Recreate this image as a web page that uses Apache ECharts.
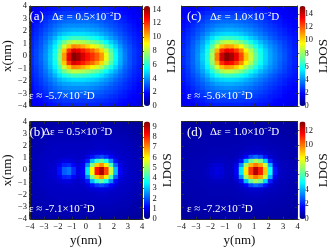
<!DOCTYPE html>
<html><head><meta charset="utf-8">
<script src="https://cdn.jsdelivr.net/npm/echarts@6/dist/echarts.min.js"></script>
<style>html,body{margin:0;padding:0;background:#fff}#c{width:331px;height:248px}</style>
</head><body><div id="c"></div>
<script>
// cell centres (nm) of the LDOS maps, same for both directions
const cellCenters = [-3.833,-3.5,-3.167,-2.833,-2.5,-2.167,-1.833,-1.5,-1.167,-0.833,-0.5,-0.167,0.167,0.5,0.833,1.167,1.5,1.833,2.167,2.5,2.833,3.167,3.5,3.833];
const axisTickValues = [-4,-3,-2,-1,0,1,2,3,4];
const panelLabels = ['(a)','(c)','(b)','(d)'];
const deltaEps = ['0.5','1.0','0.5','1.0'];
const energies = ['-5.7','-5.6','-7.1','-7.2'];
const ldosMax = [14.5, 15.2, 9.5, 13.2];
const ldosStep = [2, 2, 1, 2];

// panel (a): rows by |x| = 0.167, 0.5, ... 3.833 ; columns along y
const a0 = [2.4,2.8,3.3,3.9,4.7,5.8,7.5,10.5,13.0,14.4,14.0,13.2,12.5,12.0,11.4,10.5,8.8,7.0,5.5,4.4,3.6,3.0,2.6,2.3];
const a1 = [2.4,2.8,3.2,3.8,4.6,5.6,7.2,9.8,12.0,13.2,12.9,12.3,11.7,11.2,10.4,9.6,8.2,6.6,5.3,4.3,3.5,3.0,2.6,2.3];
const a2 = [2.3,2.7,3.1,3.7,4.4,5.3,6.6,8.3,9.8,10.8,10.6,10.2,9.7,9.2,8.5,7.8,6.8,5.7,4.8,4.0,3.3,2.9,2.5,2.2];
const a3 = [2.3,2.6,3.0,3.5,4.1,4.9,5.9,7.0,7.8,8.2,8.1,7.9,7.6,7.2,6.8,6.2,5.5,4.8,4.2,3.6,3.1,2.7,2.4,2.2];
const a4 = [2.2,2.5,2.9,3.3,3.8,4.4,5.1,5.7,6.1,6.3,6.3,6.2,6.0,5.8,5.5,5.1,4.6,4.1,3.7,3.3,2.9,2.6,2.3,2.1];
const a5 = [2.1,2.4,2.7,3.1,3.5,3.9,4.4,4.7,4.9,5.0,5.0,5.0,4.9,4.8,4.6,4.3,4.0,3.7,3.3,3.0,2.7,2.4,2.2,2.0];
const a6 = [2.0,2.3,2.6,2.9,3.2,3.6,3.9,4.1,4.2,4.3,4.3,4.3,4.2,4.1,4.0,3.8,3.6,3.3,3.0,2.8,2.5,2.3,2.1,1.9];
const a7 = [1.9,2.2,2.4,2.7,3.0,3.3,3.5,3.7,3.8,3.8,3.8,3.8,3.8,3.7,3.6,3.4,3.2,3.0,2.8,2.6,2.4,2.2,2.0,1.8];
const a8 = [1.8,2.0,2.3,2.5,2.8,3.0,3.2,3.3,3.4,3.4,3.4,3.4,3.4,3.3,3.2,3.1,2.9,2.8,2.6,2.4,2.2,2.0,1.9,1.7];
const a9 = [1.7,1.9,2.1,2.3,2.5,2.7,2.8,2.9,3.0,3.0,3.0,3.0,3.0,2.9,2.9,2.8,2.7,2.5,2.4,2.2,2.1,1.9,1.8,1.6];
const a10 = [1.6,1.8,1.9,2.1,2.2,2.4,2.5,2.6,2.6,2.6,2.6,2.6,2.6,2.6,2.5,2.5,2.4,2.3,2.2,2.0,1.9,1.8,1.7,1.5];
const a11 = [1.5,1.6,1.8,1.9,2.0,2.1,2.2,2.3,2.3,2.3,2.3,2.3,2.3,2.3,2.3,2.2,2.2,2.1,2.0,1.9,1.8,1.7,1.6,1.4];

// panel (c)
const c0 = [2.5,2.9,3.4,4.1,5.0,6.2,8.2,11.5,14.0,15.0,14.6,13.6,12.2,10.3,8.7,7.2,6.0,5.1,4.4,3.9,3.5,3.1,2.7,2.4];
const c1 = [2.5,2.9,3.4,4.0,4.8,6.0,7.8,10.6,12.7,13.5,13.2,12.4,11.2,9.6,8.2,6.9,5.8,5.0,4.3,3.8,3.4,3.0,2.7,2.4];
const c2 = [2.4,2.8,3.3,3.9,4.6,5.6,7.0,8.9,10.4,11.0,10.8,10.2,9.3,8.2,7.1,6.1,5.3,4.6,4.1,3.7,3.3,2.9,2.6,2.3];
const c3 = [2.4,2.7,3.2,3.7,4.3,5.1,6.1,7.3,8.2,8.6,8.5,8.1,7.5,6.8,6.0,5.3,4.7,4.2,3.8,3.4,3.1,2.8,2.5,2.3];
const c4 = [2.3,2.6,3.0,3.4,4.0,4.6,5.3,6.0,6.4,6.6,6.5,6.3,6.0,5.5,5.0,4.6,4.1,3.8,3.4,3.1,2.8,2.6,2.4,2.2];
const c5 = [2.2,2.5,2.8,3.2,3.6,4.1,4.6,4.9,5.1,5.2,5.2,5.1,4.9,4.6,4.3,4.0,3.7,3.4,3.1,2.9,2.6,2.4,2.2,2.1];
const c6 = [2.1,2.4,2.7,3.0,3.3,3.7,4.0,4.3,4.4,4.5,4.5,4.4,4.3,4.1,3.9,3.6,3.4,3.1,2.9,2.7,2.5,2.3,2.1,2.0];
const c7 = [2.0,2.2,2.5,2.8,3.1,3.4,3.6,3.8,3.9,4.0,4.0,3.9,3.8,3.7,3.5,3.3,3.1,2.9,2.7,2.5,2.3,2.1,2.0,1.9];
const c8 = [1.9,2.1,2.3,2.6,2.8,3.1,3.3,3.4,3.5,3.5,3.5,3.5,3.4,3.3,3.2,3.0,2.9,2.7,2.5,2.3,2.2,2.0,1.9,1.8];
const c9 = [1.8,2.0,2.2,2.4,2.6,2.8,2.9,3.0,3.1,3.1,3.1,3.1,3.0,3.0,2.9,2.8,2.6,2.5,2.3,2.2,2.1,1.9,1.8,1.7];
const c10 = [1.7,1.8,2.0,2.2,2.3,2.5,2.6,2.7,2.7,2.7,2.7,2.7,2.7,2.6,2.6,2.5,2.4,2.3,2.2,2.0,1.9,1.8,1.7,1.6];
const c11 = [1.5,1.7,1.8,2.0,2.1,2.2,2.3,2.4,2.4,2.4,2.4,2.4,2.4,2.3,2.3,2.2,2.2,2.1,2.0,1.9,1.8,1.7,1.6,1.5];

// panel (b)
const b0 = [0.5,0.55,0.6,0.65,0.7,0.8,1.3,2.05,2.25,1.6,0.95,1.2,3.35,5.95,8.2,9.1,7.7,5.4,2.9,1.15,0.75,0.65,0.6,0.55];
const b1 = [0.5,0.55,0.6,0.65,0.7,0.75,1.05,1.45,1.55,1.2,0.85,1.1,2.5,4.7,6.4,7.0,6.1,4.2,2.1,1.0,0.7,0.65,0.6,0.55];
const b2 = [0.5,0.55,0.6,0.65,0.65,0.7,0.75,0.9,0.9,0.8,0.7,0.85,1.4,2.9,4.0,4.5,3.8,2.5,1.25,0.8,0.7,0.65,0.6,0.55];
const b3 = [0.5,0.55,0.6,0.6,0.65,0.65,0.65,0.7,0.7,0.7,0.65,0.7,0.9,1.3,1.7,1.9,1.6,1.2,0.85,0.7,0.65,0.6,0.55,0.55];
const b4 = [0.5,0.5,0.55,0.6,0.6,0.65,0.65,0.65,0.65,0.65,0.65,0.65,0.7,0.8,0.85,0.9,0.85,0.8,0.7,0.65,0.6,0.6,0.55,0.5];
const b5 = [0.45,0.5,0.55,0.55,0.6,0.6,0.6,0.6,0.6,0.6,0.6,0.6,0.65,0.65,0.7,0.7,0.7,0.65,0.65,0.6,0.6,0.55,0.5,0.5];
const b6 = [0.45,0.5,0.5,0.55,0.55,0.6,0.6,0.6,0.6,0.6,0.6,0.6,0.6,0.6,0.65,0.65,0.65,0.6,0.6,0.6,0.55,0.55,0.5,0.45];
const b7 = [0.4,0.45,0.5,0.5,0.55,0.55,0.55,0.55,0.55,0.55,0.55,0.55,0.55,0.6,0.6,0.6,0.6,0.6,0.55,0.55,0.5,0.5,0.45,0.4];
const b8 = [0.4,0.4,0.45,0.5,0.5,0.5,0.5,0.5,0.5,0.5,0.5,0.5,0.5,0.55,0.55,0.55,0.55,0.55,0.5,0.5,0.5,0.45,0.4,0.4];
const b9 = [0.35,0.4,0.4,0.45,0.45,0.45,0.5,0.5,0.5,0.5,0.5,0.5,0.5,0.5,0.5,0.5,0.5,0.5,0.5,0.45,0.45,0.4,0.4,0.35];
const b10 = [0.3,0.35,0.4,0.4,0.4,0.45,0.45,0.45,0.45,0.45,0.45,0.45,0.45,0.45,0.45,0.45,0.45,0.45,0.45,0.4,0.4,0.4,0.35,0.3];
const b11 = [0.3,0.3,0.35,0.35,0.4,0.4,0.4,0.4,0.4,0.4,0.4,0.4,0.4,0.4,0.4,0.4,0.4,0.4,0.4,0.4,0.35,0.35,0.3,0.3];

// panel (d)
const d0 = [0.6,0.65,0.7,0.7,0.75,0.85,1.1,1.25,1.15,0.9,0.8,1.6,4.65,8.5,10.8,12.5,11.2,8.9,5.1,1.85,0.95,0.8,0.75,0.7];
const d1 = [0.6,0.65,0.7,0.7,0.75,0.8,1.0,1.1,1.05,0.85,0.8,1.3,3.5,7.0,9.2,10.0,9.4,7.5,3.9,1.45,0.9,0.8,0.75,0.7];
const d2 = [0.6,0.65,0.65,0.7,0.7,0.75,0.8,0.85,0.85,0.8,0.75,1.0,1.85,4.1,6.3,7.2,6.5,4.4,2.05,1.05,0.8,0.75,0.7,0.65];
const d3 = [0.6,0.6,0.65,0.65,0.7,0.7,0.75,0.75,0.75,0.75,0.75,0.8,1.05,1.65,2.6,3.05,2.65,1.85,1.1,0.85,0.75,0.7,0.65,0.6];
const d4 = [0.6,0.6,0.65,0.65,0.65,0.7,0.7,0.7,0.7,0.7,0.7,0.75,0.85,0.95,1.05,1.1,1.05,0.95,0.85,0.8,0.75,0.7,0.65,0.6];
const d5 = [0.55,0.6,0.6,0.65,0.65,0.65,0.7,0.7,0.7,0.7,0.7,0.7,0.75,0.8,0.85,0.9,0.85,0.8,0.75,0.75,0.7,0.65,0.6,0.6];
const d6 = [0.55,0.55,0.6,0.6,0.65,0.65,0.65,0.65,0.65,0.65,0.65,0.7,0.7,0.75,0.75,0.8,0.75,0.75,0.7,0.7,0.65,0.6,0.6,0.55];
const d7 = [0.5,0.55,0.55,0.6,0.6,0.6,0.65,0.65,0.65,0.65,0.65,0.65,0.65,0.7,0.7,0.7,0.7,0.7,0.65,0.65,0.6,0.6,0.55,0.5];
const d8 = [0.5,0.5,0.55,0.55,0.6,0.6,0.6,0.6,0.6,0.6,0.6,0.6,0.65,0.65,0.65,0.65,0.65,0.65,0.6,0.6,0.6,0.55,0.5,0.5];
const d9 = [0.45,0.5,0.5,0.55,0.55,0.55,0.6,0.6,0.6,0.6,0.6,0.6,0.6,0.6,0.6,0.6,0.6,0.6,0.6,0.55,0.55,0.5,0.5,0.45];
const d10 = [0.4,0.45,0.5,0.5,0.5,0.55,0.55,0.55,0.55,0.55,0.55,0.55,0.55,0.55,0.55,0.55,0.55,0.55,0.55,0.5,0.5,0.5,0.45,0.4];
const d11 = [0.4,0.4,0.45,0.45,0.5,0.5,0.5,0.5,0.5,0.5,0.5,0.5,0.5,0.5,0.5,0.5,0.5,0.5,0.5,0.5,0.45,0.45,0.4,0.4];

// rows listed in order of cellCenters along x (bottom to top)
const mapA = [a11,a10,a9,a8,a7,a6,a5,a4,a3,a2,a1,a0,a0,a1,a2,a3,a4,a5,a6,a7,a8,a9,a10,a11];
const mapC = [c11,c10,c9,c8,c7,c6,c5,c4,c3,c2,c1,c0,c0,c1,c2,c3,c4,c5,c6,c7,c8,c9,c10,c11];
const mapB = [b11,b10,b9,b8,b7,b6,b5,b4,b3,b2,b1,b0,b0,b1,b2,b3,b4,b5,b6,b7,b8,b9,b10,b11];
const mapD = [d11,d10,d9,d8,d7,d6,d5,d4,d3,d2,d1,d0,d0,d1,d2,d3,d4,d5,d6,d7,d8,d9,d10,d11];
const maps = [mapA, mapC, mapB, mapD];

const JET = ['#00007F','#0000FF','#007FFF','#00FFFF','#7FFF7F','#FFFF00','#FF7F00','#FF0000','#7F0000'];
const FONT = 'Liberation Serif';
const CELL = cellCenters[1] - cellCenters[0];

const layout = [
  {plot:{left:26, top:6, width:116, height:100}, bar:{left:144, top:6, width:6, height:100}, yLab:true, xLab:false},
  {plot:{left:181.5, top:6, width:116, height:100}, bar:{left:299.5, top:6, width:6, height:100}, yLab:false, xLab:false},
  {plot:{left:26, top:121.5, width:116, height:97.5}, bar:{left:144, top:121.5, width:6, height:97.5}, yLab:true, xLab:true},
  {plot:{left:181.5, top:121.5, width:116, height:97.5}, bar:{left:299.5, top:121.5, width:6, height:97.5}, yLab:false, xLab:true}
];

function toData(rows) {
  const out = [];
  rows.forEach((row, i) => row.forEach((v, j) => out.push([cellCenters[j], cellCenters[i], v])));
  return out;
}
const fmtTick = v => (v < 0 ? '\u2212' + (-v) : String(v));

const grid = [], xAxis = [], yAxis = [], series = [], visualMap = [], graphic = [];
const tickStyle = {show:true, inside:true, length:2.5, lineStyle:{color:'#333', width:0.8}};
const lineStyle = {show:true, onZero:false, lineStyle:{color:'#222', width:1}};

layout.forEach((L, k) => {
  const g = grid.length;
  grid.push(Object.assign({containLabel:false}, L.plot));
  const xb = xAxis.length;
  xAxis.push({gridIndex:g, type:'value', min:-4, max:4, interval:1, position:'bottom', z:5,
    axisLine:lineStyle, axisTick:tickStyle, splitLine:{show:false},
    axisLabel:{show:L.xLab, formatter:fmtTick, fontFamily:FONT, fontSize:8.5, color:'#111', margin:3},
    name: L.xLab ? 'y(nm)' : '', nameLocation:'middle', nameGap:15,
    nameTextStyle:{fontFamily:FONT, fontSize:13, color:'#111'}});
  xAxis.push({gridIndex:g, type:'value', min:-4, max:4, interval:1, position:'top', z:5,
    axisLine:lineStyle, axisTick:tickStyle, splitLine:{show:false}, axisLabel:{show:false}});
  const yb = yAxis.length;
  yAxis.push({gridIndex:g, type:'value', min:-4, max:4, interval:1, position:'left', z:5,
    axisLine:lineStyle, axisTick:tickStyle, splitLine:{show:false},
    axisLabel:{show:L.yLab, formatter:fmtTick, fontFamily:FONT, fontSize:8.5, color:'#111', margin:3},
    name: L.yLab ? 'x(nm)' : '', nameLocation:'middle', nameGap:11, nameRotate:90,
    nameTextStyle:{fontFamily:FONT, fontSize:13, color:'#111'}});
  yAxis.push({gridIndex:g, type:'value', min:-4, max:4, interval:1, position:'right', z:5,
    axisLine:lineStyle, axisTick:tickStyle, splitLine:{show:false}, axisLabel:{show:false}});

  series.push({type:'custom', xAxisIndex:xb, yAxisIndex:yb, clip:true, silent:true, z:1,
    encode:{x:0, y:1}, data:toData(maps[k]),
    renderItem:(params, api) => {
      const c = api.coord([api.value(0), api.value(1)]);
      const s = api.size([CELL, CELL]);
      return {type:'rect', shape:{x:c[0]-s[0]/2-0.75, y:c[1]-s[1]/2-0.75, width:s[0]+1.5, height:s[1]+1.5},
        style:{fill:api.visual('color')}};
    }});
  visualMap.push({type:'continuous', seriesIndex:k, dimension:2, min:0, max:ldosMax[k],
    inRange:{color:JET}, calculable:false, hoverLink:false, text:null, padding:0,
    left:L.bar.left, top:L.bar.top, itemWidth:L.bar.width, itemHeight:L.bar.height});

  // colour bar scale
  const gb = grid.length;
  grid.push(Object.assign({containLabel:false}, L.bar));
  xAxis.push({gridIndex:gb, type:'value', show:false, min:0, max:1});
  yAxis.push({gridIndex:gb, type:'value', min:0, max:ldosMax[k], interval:ldosStep[k], position:'right',
    axisLine:{show:false}, axisTick:{show:true, inside:true, length:2, lineStyle:{color:'#333', width:0.8}},
    splitLine:{show:false},
    axisLabel:{showMaxLabel:false, fontFamily:FONT, fontSize:8.5, color:'#111', margin:2.5},
    name:'LDOS', nameLocation:'middle', nameGap:11, nameRotate:90,
    nameTextStyle:{fontFamily:FONT, fontSize:13, color:'#111'}});

  // panel annotations
  const sup = {fontSize:6.5, fontFamily:FONT, color:'#fff', padding:[0,0,6,0]};
  const isRight = L.plot.left > 100;
  const x0 = L.plot.left;
  const yTop = L.plot.top + 12.5;
  const yBot = L.plot.top + L.plot.height - 9;
  graphic.push({type:'text', z:100, left:x0 + (isRight ? 5.5 : 3.5), top:yTop - 8,
    style:{text:panelLabels[k], fill:'#fff', font:'13px "' + FONT + '"'}});
  graphic.push({type:'text', z:100, left:x0 + (k === 2 ? 17 : (isRight ? 28.5 : 26)), top:yTop - 8,
    style:{text:'\u0394\u03b5 = ' + deltaEps[k] + '\u00d710{s|\u22122}D', rich:{s:sup}, fill:'#fff', font:'11px "' + FONT + '"'}});
  graphic.push({type:'text', z:100, left:x0 + (isRight ? 5.5 : 3), top:yBot - 7,
    style:{text:'\u03b5 \u2248 ' + energies[k] + '\u00d710{s|\u22122}D', rich:{s:sup}, fill:'#fff', font:'11px "' + FONT + '"'}});
});

const chart = echarts.init(document.getElementById('c'), null, {renderer:'canvas'});
chart.setOption({animation:false, backgroundColor:'#fff', grid, xAxis, yAxis, series, visualMap, graphic});
</script></body></html>
